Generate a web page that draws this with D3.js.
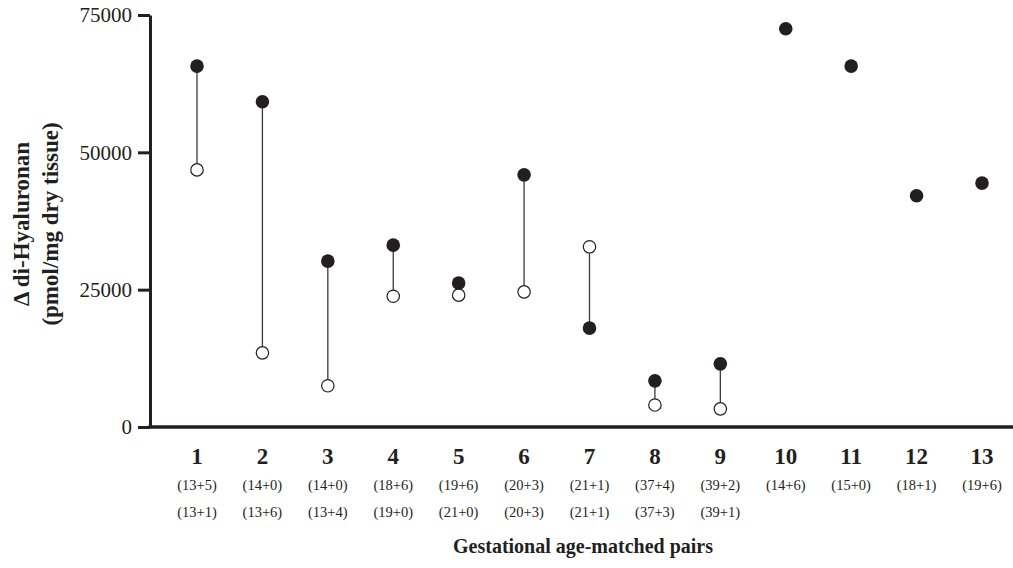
<!DOCTYPE html>
<html>
<head>
<meta charset="utf-8">
<script src="https://cdn.jsdelivr.net/npm/d3@7"></script>
<style>
  html, body { margin: 0; padding: 0; background: #fff; }
  svg { display: block; }
  text { font-family: "Liberation Serif", "DejaVu Serif", serif; fill: #231f20; }
</style>
</head>
<body>
<svg id="chart" width="1013" height="568"></svg>
<script>
// ---- data ----
const categories = ["1","2","3","4","5","6","7","8","9","10","11","12","13"];
const filledValues = [65700, 59200, 30200, 33100, 26200, 45900, 18000, 8400, 11500, 72500, 65700, 42100, 44400];
const openValues   = [46800, 13500, 7500, 23800, 24000, 24600, 32800, 4000, 3300, null, null, null, null];
const ageRow1 = ["(13+5)","(14+0)","(14+0)","(18+6)","(19+6)","(20+3)","(21+1)","(37+4)","(39+2)","(14+6)","(15+0)","(18+1)","(19+6)"];
const ageRow2 = ["(13+1)","(13+6)","(13+4)","(19+0)","(21+0)","(20+3)","(21+1)","(37+3)","(39+1)","","","",""];
const yTicks = [0, 25000, 50000, 75000];
const yTitle = ["\u0394 di-Hyaluronan", "(pmol/mg dry tissue)"];
const xTitle = "Gestational age-matched pairs";

// ---- layout ----
const svg = d3.select("#chart");
const ink = "#231f20";
const axisX = 150, axisRight = 1013;
const y = d3.scaleLinear().domain([0, 75000]).range([427, 15]);
const x = d3.scalePoint().domain(categories).range([197, 982]);

// y axis
const yAxis = d3.axisLeft(y).tickValues(yTicks).tickSize(12).tickSizeOuter(0).tickPadding(6).tickFormat(d3.format("d"));
const gy = svg.append("g").attr("transform", `translate(${axisX},0)`).call(yAxis);
gy.select(".domain").attr("stroke", ink).attr("stroke-width", 3);
gy.selectAll(".tick line").attr("stroke", ink).attr("stroke-width", 3);
gy.selectAll(".tick text").attr("font-size", 21).attr("font-family", "Liberation Serif, serif").attr("fill", ink);

// x axis line
svg.append("line")
  .attr("x1", axisX - 1.5).attr("x2", axisRight)
  .attr("y1", y(0)).attr("y2", y(0))
  .attr("stroke", ink).attr("stroke-width", 3.5);

// connecting lines
const pairs = categories.map((c, i) => ({c, f: filledValues[i], o: openValues[i]}));
svg.append("g").selectAll("line").data(pairs.filter(d => d.o != null)).join("line")
  .attr("x1", d => x(d.c)).attr("x2", d => x(d.c))
  .attr("y1", d => y(d.f)).attr("y2", d => y(d.o))
  .attr("stroke", "#3a3a3a").attr("stroke-width", 1.3);

// open circles
svg.append("g").selectAll("circle").data(pairs.filter(d => d.o != null)).join("circle")
  .attr("cx", d => x(d.c)).attr("cy", d => y(d.o)).attr("r", 6.2)
  .attr("fill", "#fff").attr("stroke", ink).attr("stroke-width", 1.2);

// filled circles
svg.append("g").selectAll("circle").data(pairs).join("circle")
  .attr("cx", d => x(d.c)).attr("cy", d => y(d.f)).attr("r", 6.8)
  .attr("fill", ink);

// category labels
const lab = svg.append("g");
lab.selectAll("text.num").data(categories).join("text").attr("class", "num")
  .attr("x", d => x(d)).attr("y", 464).attr("text-anchor", "middle")
  .attr("font-size", 23).attr("font-weight", "bold").text(d => d);
lab.selectAll("text.r1").data(categories).join("text").attr("class", "r1")
  .attr("x", d => x(d)).attr("y", 490).attr("text-anchor", "middle")
  .attr("font-size", 14.5).text((d, i) => ageRow1[i]);
lab.selectAll("text.r2").data(categories).join("text").attr("class", "r2")
  .attr("x", d => x(d)).attr("y", 517).attr("text-anchor", "middle")
  .attr("font-size", 14.5).text((d, i) => ageRow2[i]);

// x title
svg.append("text").attr("x", 583).attr("y", 553).attr("text-anchor", "middle")
  .attr("font-size", 20).attr("font-weight", "bold").text(xTitle);

// y title
const yt = svg.append("text").attr("transform", "translate(0,224) rotate(-90)")
  .attr("text-anchor", "middle").attr("font-size", 23).attr("font-weight", "bold");
yt.selectAll("tspan").data(yTitle).join("tspan")
  .attr("x", 0).attr("y", (d, i) => 29 + i * 29).text(d => d);
</script>
</body>
</html>
